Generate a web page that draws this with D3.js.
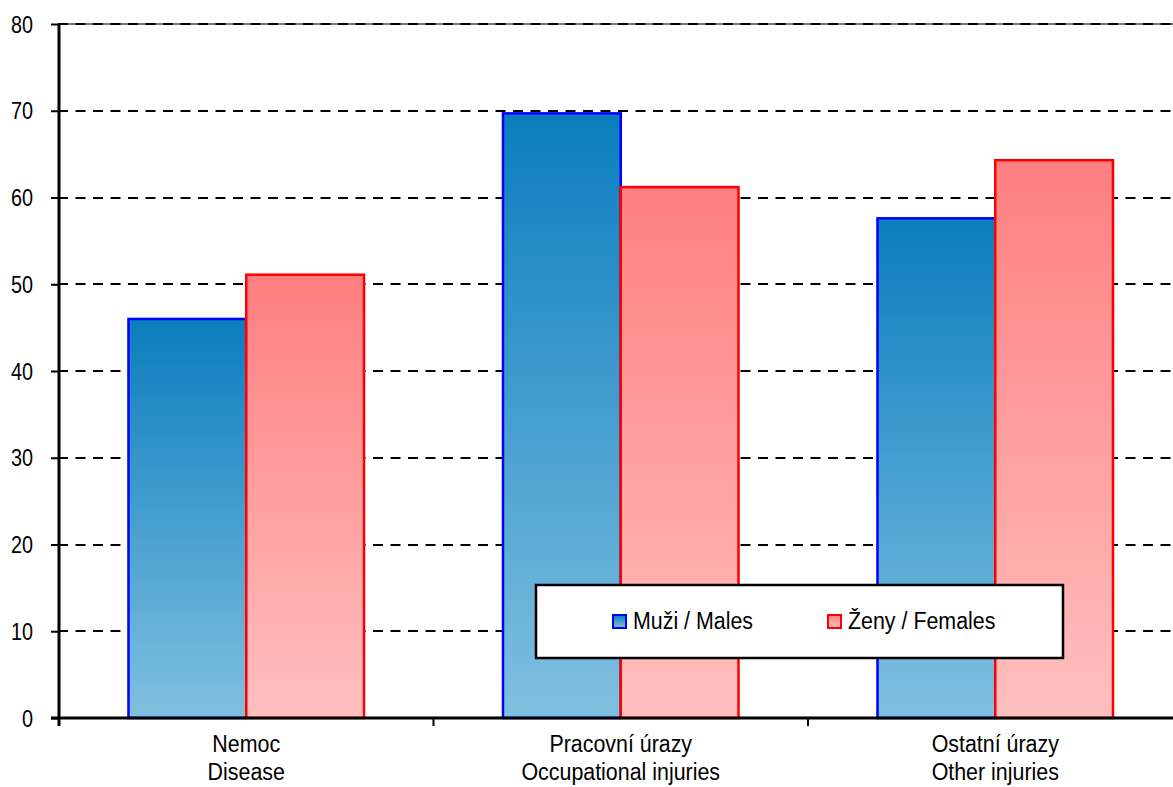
<!DOCTYPE html>
<html>
<head>
<meta charset="utf-8">
<script src="https://cdn.jsdelivr.net/npm/d3@7"></script>
<style>
  html, body { margin: 0; padding: 0; background: #fff; }
  svg { display: block; font-family: "Liberation Sans", Arial, sans-serif; }
</style>
</head>
<body>
<svg id="chart" width="1173" height="787"></svg>
<script>
const categoriesCz = ["Nemoc", "Pracovní úrazy", "Ostatní úrazy"];
const categoriesEn = ["Disease", "Occupational injuries", "Other injuries"];
const seriesNames = ["Muži / Males", "Ženy / Females"];
const males = [46, 69.7, 57.6];
const females = [51.1, 61.2, 64.3];
const yTicks = [0, 10, 20, 30, 40, 50, 60, 70, 80];

(function () {
const svg = d3.select("#chart");
const W = 1173;
const mLeft = 59, mRight = 1182.5, mTop = 24, mBottom = 718;
const FS = 23;

function squeeze(sel, k) {
  sel.each(function () {
    const len = this.getComputedTextLength();
    this.setAttribute("textLength", (len * k).toFixed(2));
    this.setAttribute("lengthAdjust", "spacingAndGlyphs");
  });
}

const x0 = d3.scaleBand().domain(categoriesCz).range([mLeft, mRight]).paddingInner(0).paddingOuter(0);
const x1 = d3.scaleBand().domain(seriesNames).range([0, x0.bandwidth()]).paddingInner(0).paddingOuter(0.59);
const y = d3.scaleLinear().domain([0, 80]).range([mBottom, mTop]);

const defs = svg.append("defs");
const gradM = defs.append("linearGradient").attr("id", "gM").attr("x1", 0).attr("y1", 0).attr("x2", 0).attr("y2", 1);
gradM.append("stop").attr("offset", "0%").attr("stop-color", "#0b7dbe");
gradM.append("stop").attr("offset", "100%").attr("stop-color", "#80c0e0");
const gradF = defs.append("linearGradient").attr("id", "gF").attr("x1", 0).attr("y1", 0).attr("x2", 0).attr("y2", 1);
gradF.append("stop").attr("offset", "0%").attr("stop-color", "#ff7f7f");
gradF.append("stop").attr("offset", "100%").attr("stop-color", "#ffbfbf");

// top border line (plot area)
svg.append("line").attr("x1", mLeft).attr("x2", W).attr("y1", y(80)).attr("y2", y(80))
  .attr("stroke", "#777").attr("stroke-width", 2);

// gridlines
svg.append("g").selectAll("line").data(yTicks.filter(d => d > 0)).join("line")
  .attr("x1", mLeft - 1).attr("x2", W)
  .attr("y1", d => Math.round(y(d))).attr("y2", d => Math.round(y(d)))
  .attr("stroke", "#000").attr("stroke-width", 2).attr("stroke-dasharray", "10,7.5");

// bars
const data = categoriesCz.map((c, i) => ({ c, vals: [
  { s: seriesNames[0], v: males[i], fill: "url(#gM)", stroke: "#0000ff" },
  { s: seriesNames[1], v: females[i], fill: "url(#gF)", stroke: "#ff0000" }
]}));
const g = svg.append("g").selectAll("g").data(data).join("g")
  .attr("transform", d => `translate(${x0(d.c)},0)`);
g.selectAll("rect").data(d => d.vals).join("rect")
  .attr("x", d => x1(d.s))
  .attr("y", d => y(d.v))
  .attr("width", x1.bandwidth())
  .attr("height", d => y(0) - y(d.v))
  .attr("fill", d => d.fill)
  .attr("stroke", d => d.stroke)
  .attr("stroke-width", 2.5);

// y axis
const yAxis = d3.axisLeft(y).tickValues(yTicks).tickSize(8).tickPadding(18);
const ya = svg.append("g").attr("transform", `translate(${mLeft},0)`).call(yAxis);
ya.select(".domain").attr("stroke", "#000").attr("stroke-width", 3).attr("d", `M0,${mTop}V${mBottom + 8}`);
ya.selectAll(".tick line").attr("stroke", "#000").attr("stroke-width", 2);
const yt = ya.selectAll(".tick text").attr("font-size", FS).attr("fill", "#000")
  .attr("font-family", "Liberation Sans, Arial, sans-serif").attr("dy", "0.35em");
squeeze(yt, 0.86);

// x axis
const xa = svg.append("g").attr("transform", `translate(0,${mBottom})`);
xa.append("line").attr("x1", mLeft - 8).attr("x2", W).attr("y1", 0).attr("y2", 0)
  .attr("stroke", "#000").attr("stroke-width", 3);
xa.selectAll("line.tk").data(categoriesCz).join("line").attr("class", "tk")
  .attr("x1", d => x0(d) + x0.bandwidth()).attr("x2", d => x0(d) + x0.bandwidth())
  .attr("y1", 0).attr("y2", 8).attr("stroke", "#000").attr("stroke-width", 2);
const l1 = xa.selectAll("text.c1").data(categoriesCz).join("text").attr("class", "c1")
  .attr("text-anchor", "middle").attr("font-size", FS).attr("fill", "#000")
  .attr("x", d => x0(d) + x0.bandwidth() / 2).attr("y", 34).text(d => d);
const l2 = xa.selectAll("text.c2").data(categoriesCz).join("text").attr("class", "c2")
  .attr("text-anchor", "middle").attr("font-size", FS).attr("fill", "#000")
  .attr("x", d => x0(d) + x0.bandwidth() / 2).attr("y", 62).text((d, i) => categoriesEn[i]);
squeeze(l1, 0.93);
squeeze(l2, 0.93);

// legend
const lg = svg.append("g");
lg.append("rect").attr("x", 536).attr("y", 585).attr("width", 527).attr("height", 73)
  .attr("fill", "#fff").attr("stroke", "#000").attr("stroke-width", 2.5);
const lx = [613, 828];
const lfill = ["url(#gM)", "url(#gF)"];
const lstroke = ["#0000ff", "#ff0000"];
const li = lg.selectAll("g").data(seriesNames).join("g")
  .attr("transform", (d, i) => `translate(${lx[i]},615)`);
li.append("rect").attr("width", 13).attr("height", 13)
  .attr("fill", (d, i) => lfill[i]).attr("stroke", (d, i) => lstroke[i]).attr("stroke-width", 2);
const lt = li.append("text").attr("x", 20).attr("y", 14).attr("font-size", FS).attr("fill", "#000").text(d => d);
squeeze(lt, 0.93);
})();
</script>
</body>
</html>
